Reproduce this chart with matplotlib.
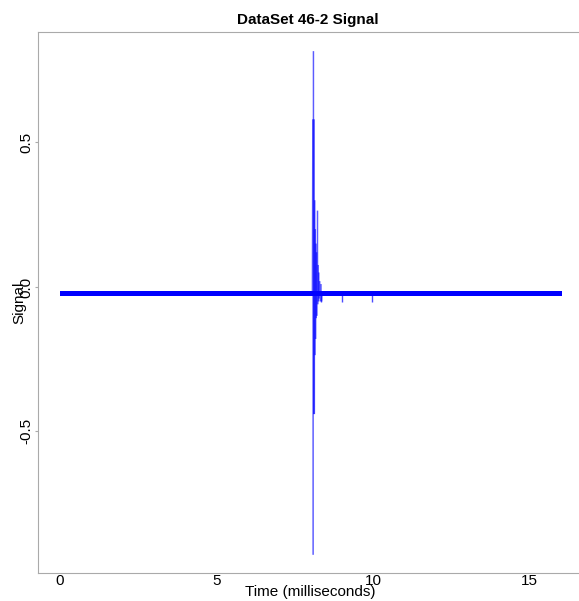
import matplotlib
matplotlib.use("Agg")
import matplotlib.pyplot as plt
from matplotlib.collections import LineCollection

plt.rcParams['font.family'] = ['Liberation Sans', 'DejaVu Sans']

# baseline band of the signal (envelope)
band_t = [0.0, 16.04]
band_lo = [-0.033, -0.033]
band_hi = [-0.015, -0.015]

# burst around 8.1 ms
burst_t = [8.06, 8.08, 8.09, 8.10, 8.11, 8.12, 8.13, 8.14, 8.15, 8.16,
           8.17, 8.18, 8.19, 8.20, 8.21, 8.22, 8.23, 8.24, 8.25, 8.26,
           8.27, 8.28, 8.30, 8.32, 8.34, 8.36, 8.38]
burst_v = [-0.024, 0.58, -0.927, 0.816, -0.44, 0.58, -0.44, 0.30, -0.236, 0.20,
           -0.18, 0.15, -0.108, 0.12, -0.10, 0.08, 0.264, -0.06, 0.076, -0.05,
           0.05, -0.04, 0.02, -0.05, 0.01, -0.05, -0.024]

# small isolated dips after the burst
dip_t = [8.34, 9.01, 9.97]
dip_v = [-0.052, -0.052, -0.052]

fig = plt.figure(figsize=(5.79, 6.01), dpi=100)
ax = fig.add_axes([0.0656, 0.0466, 0.9326, 0.900])

ax.fill_between(band_t, band_lo, band_hi, color='#0000ff', linewidth=0)

# one segment per sample step so overlapping strokes build up colour
segs = [[(burst_t[i], burst_v[i]), (burst_t[i + 1], burst_v[i + 1])]
        for i in range(len(burst_t) - 1)]
ax.add_collection(LineCollection(segs, colors='#0000ff', alpha=0.4, linewidths=1.0))
ax.vlines(dip_t, -0.024, dip_v, color='#0000ff', alpha=0.7, linewidth=1.0)

ax.set_xlim(-0.70, 16.55)
ax.set_ylim(-0.99, 0.882)
ax.set_xticks([0, 5, 10, 15])
ax.set_yticks([-0.5, 0.0, 0.5])
ax.set_yticklabels(['-0.5', '0.0', '0.5'], rotation=90, va='center')

for side in ['left', 'top', 'bottom']:
    ax.spines[side].set_color('#aaaaaa')
ax.spines['right'].set_visible(False)

ax.tick_params(axis='x', length=0, pad=1, labelsize=11)
ax.tick_params(axis='y', length=2, color='#aaaaaa', pad=1, labelsize=11)

ax.set_title('DataSet 46-2 Signal', fontsize=11, fontweight='bold', pad=6)
ax.set_xlabel('Time (milliseconds)', fontsize=11)
ax.xaxis.set_label_coords(0.504, -0.022)
ax.set_ylabel('Signal', fontsize=11)
ax.yaxis.set_label_coords(-0.022, 0.5)

fig.savefig('out.png', dpi=100)
